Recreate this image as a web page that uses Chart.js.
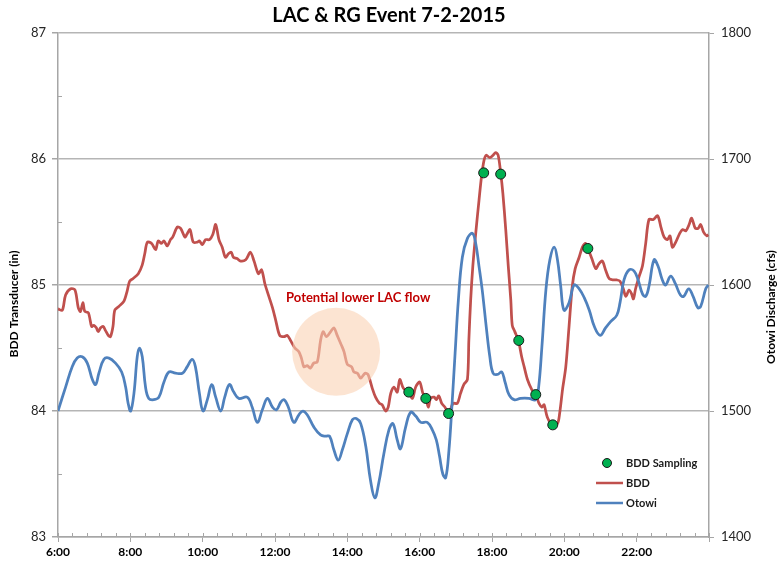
<!DOCTYPE html>
<html>
<head>
<meta charset="utf-8">
<script src="https://cdn.jsdelivr.net/npm/chart.js@4.4.0/dist/chart.umd.min.js"></script>
<style>
  body { margin: 0; background: #fff; }
</style>
</head>
<body>
<canvas id="eventChart" width="778" height="565"></canvas>
<script>
// BDD transducer (in), hours of day
const bddTimes = [6.00,6.12,6.21,6.35,6.47,6.56,6.62,6.69,6.74,6.84,6.93,6.99,7.06,7.11,7.18,7.25,7.31,7.39,7.45,7.52,7.57,7.68,7.82,7.91,7.98,8.07,8.22,8.33,8.40,8.47,8.59,8.70,8.77,8.86,8.93,9.02,9.11,9.17,9.30,9.39,9.51,9.56,9.65,9.74,9.85,9.91,9.99,10.08,10.19,10.28,10.36,10.45,10.54,10.63,10.72,10.79,10.85,10.95,11.05,11.19,11.32,11.42,11.54,11.63,11.72,11.83,11.93,12.02,12.13,12.25,12.34,12.43,12.55,12.66,12.73,12.80,12.89,12.98,13.07,13.17,13.26,13.33,13.42,13.54,13.63,13.72,13.84,13.91,14.00,14.12,14.18,14.28,14.37,14.49,14.57,14.69,14.78,14.89,14.96,15.06,15.13,15.20,15.29,15.38,15.45,15.55,15.70,15.80,15.89,16.00,16.09,16.17,16.24,16.30,16.40,16.46,16.53,16.61,16.70,16.81,16.92,17.04,17.13,17.22,17.32,17.36,17.41,17.47,17.55,17.64,17.71,17.78,17.84,17.94,18.03,18.10,18.17,18.24,18.30,18.38,18.45,18.52,18.56,18.63,18.73,18.82,18.89,18.98,19.10,19.21,19.30,19.38,19.44,19.53,19.67,19.81,19.87,19.95,20.04,20.13,20.22,20.30,20.41,20.50,20.59,20.65,20.76,20.87,20.96,21.05,21.14,21.24,21.36,21.45,21.54,21.63,21.70,21.79,21.86,21.91,21.97,22.07,22.16,22.25,22.34,22.46,22.58,22.67,22.76,22.85,22.92,22.99,23.08,23.19,23.27,23.36,23.45,23.52,23.62,23.70,23.77,23.85,23.94,23.98];
const bddValues = [84.81,84.80,84.92,84.97,84.96,84.82,84.79,84.86,84.79,84.78,84.67,84.68,84.66,84.63,84.66,84.67,84.64,84.60,84.59,84.67,84.80,84.83,84.87,84.95,85.03,85.05,85.09,85.16,85.25,85.34,85.33,85.28,85.35,85.33,85.35,85.31,85.36,85.38,85.46,85.45,85.38,85.40,85.44,85.34,85.34,85.35,85.32,85.36,85.36,85.40,85.48,85.36,85.30,85.22,85.25,85.26,85.22,85.21,85.19,85.20,85.26,85.19,85.09,85.12,85.01,84.91,84.82,84.72,84.60,84.59,84.60,84.56,84.50,84.47,84.42,84.35,84.36,84.34,84.38,84.39,84.56,84.63,84.59,84.63,84.66,84.60,84.52,84.47,84.37,84.35,84.31,84.30,84.26,84.30,84.29,84.18,84.11,84.06,84.05,84.00,84.03,84.14,84.19,84.15,84.25,84.18,84.15,84.10,84.19,84.23,84.14,84.10,84.03,84.10,84.11,84.09,84.12,84.06,84.03,83.98,84.06,84.06,84.14,84.21,84.25,84.56,84.88,85.15,85.41,85.67,85.86,85.99,86.03,86.01,86.03,86.05,86.03,85.89,85.73,85.44,85.15,84.88,84.68,84.63,84.56,84.43,84.35,84.25,84.17,84.13,84.06,84.03,84.05,83.95,83.89,83.90,83.98,84.17,84.35,84.67,84.99,85.13,85.22,85.30,85.33,85.29,85.21,85.13,85.17,85.19,85.12,85.05,85.04,85.04,85.03,84.97,84.91,84.96,84.93,84.89,84.97,85.07,85.15,85.33,85.52,85.52,85.55,85.46,85.38,85.36,85.39,85.30,85.34,85.41,85.44,85.43,85.48,85.53,85.45,85.45,85.48,85.42,85.39,85.40];

// Otowi discharge (cfs)
const otowiTimes = [6.00,6.21,6.39,6.53,6.67,6.81,6.95,7.04,7.13,7.27,7.41,7.59,7.76,7.87,7.94,8.01,8.10,8.19,8.25,8.33,8.42,8.51,8.65,8.79,8.93,9.07,9.25,9.44,9.57,9.71,9.80,9.91,10.01,10.13,10.25,10.36,10.50,10.61,10.74,10.86,11.00,11.23,11.37,11.51,11.65,11.79,11.93,12.04,12.16,12.25,12.37,12.52,12.66,12.77,12.89,13.08,13.26,13.40,13.51,13.63,13.75,13.86,14.00,14.14,14.25,14.37,14.51,14.64,14.76,14.87,15.01,15.15,15.26,15.38,15.47,15.61,15.75,15.89,16.03,16.21,16.35,16.46,16.55,16.64,16.72,16.81,16.89,16.98,17.07,17.18,17.32,17.46,17.55,17.64,17.73,17.84,17.94,18.03,18.15,18.27,18.36,18.47,18.61,18.79,19.02,19.21,19.29,19.38,19.49,19.60,19.72,19.81,19.90,19.99,20.13,20.27,20.41,20.55,20.69,20.83,20.99,21.14,21.28,21.45,21.54,21.65,21.79,21.93,22.04,22.16,22.25,22.34,22.48,22.59,22.71,22.80,22.94,23.07,23.21,23.30,23.44,23.56,23.69,23.77,23.91,23.98];
const otowiValues = [1500,1519,1535,1542,1543,1538,1525,1521,1530,1541,1542,1538,1531,1519,1506,1500,1514,1543,1550,1543,1519,1510,1509,1511,1523,1531,1530,1530,1535,1541,1535,1514,1500,1509,1521,1511,1500,1511,1521,1515,1510,1511,1503,1491,1501,1510,1503,1501,1507,1509,1503,1491,1497,1500,1497,1487,1481,1480,1480,1469,1461,1469,1482,1493,1494,1490,1472,1445,1431,1443,1466,1485,1490,1477,1470,1487,1499,1496,1491,1491,1485,1477,1464,1450,1447,1469,1503,1546,1588,1622,1637,1641,1633,1615,1596,1567,1543,1530,1529,1531,1523,1513,1509,1510,1510,1509,1519,1551,1596,1620,1630,1620,1599,1580,1586,1600,1597,1590,1580,1567,1560,1566,1571,1576,1586,1604,1612,1611,1604,1593,1591,1599,1620,1615,1604,1600,1607,1601,1592,1591,1597,1591,1582,1583,1597,1600];

// BDD sampling times and transducer readings
const sampleTimes = [15.70,16.17,16.80,17.77,18.24,18.74,19.21,19.68,20.65];
const sampleValues = [84.15,84.10,83.98,85.89,85.88,84.56,84.13,83.89,85.29];

const leftTicks = [83,84,85,86,87];
const hourLabels = [6,8,10,12,14,16,18,20,22];

const fontFamily = 'Lato, "Open Sans", sans-serif';
const axisGray = '#A6A6A6';
const gridGray = '#B5B5B5';

function pairs(xs, ys) {
  return xs.map((x, i) => ({x: x, y: ys[i]}));
}

function isWhole(v) {
  return Math.abs(v - Math.round(v)) < 1e-6;
}

const decor = {
  id: 'decor',
  afterDatasetsDraw(chart) {
    const ctx = chart.ctx;
    const xs = chart.scales.x, ys = chart.scales.y;
    // highlight circle
    ctx.save();
    ctx.fillStyle = 'rgba(250,210,180,0.6)';
    ctx.beginPath();
    ctx.arc(xs.getPixelForValue(13.69), ys.getPixelForValue(84.47), 44, 0, Math.PI * 2);
    ctx.fill();
    ctx.fillStyle = '#C00000';
    ctx.font = 'bold 13px ' + fontFamily;
    ctx.textAlign = 'center';
    ctx.textBaseline = 'middle';
    ctx.fillText('Potential lower LAC flow', xs.getPixelForValue(14.3), ys.getPixelForValue(84.9));
    ctx.restore();
  },
  afterDraw(chart) {
    const ctx = chart.ctx;
    const area = chart.chartArea;
    const xs = chart.scales.x, ys = chart.scales.y;
    ctx.save();
    // minor ticks (inside)
    ctx.strokeStyle = axisGray;
    ctx.lineWidth = 1;
    ys.ticks.forEach(t => {
      if (isWhole(t.value)) return;
      const py = Math.round(ys.getPixelForValue(t.value)) + 0.5;
      ctx.beginPath();
      ctx.moveTo(area.left, py);
      ctx.lineTo(area.left + 4, py);
      ctx.stroke();
    });
    xs.ticks.forEach(t => {
      const py = area.bottom;
      const px = Math.round(xs.getPixelForValue(t.value)) + 0.5;
      ctx.beginPath();
      ctx.moveTo(px, py);
      ctx.lineTo(px, py - 4);
      ctx.stroke();
    });

    // axis titles
    ctx.fillStyle = '#000';
    ctx.font = 'bold 12px ' + fontFamily;
    ctx.textAlign = 'center';
    ctx.textBaseline = 'middle';
    const midY = (area.top + area.bottom) / 2 + 19;
    ctx.save();
    ctx.translate(14, midY);
    ctx.rotate(-Math.PI / 2);
    ctx.fillText('BDD Transducer (in)', 0, 0);
    ctx.restore();
    ctx.save();
    ctx.translate(771, midY + 3);
    ctx.rotate(-Math.PI / 2);
    ctx.fillText('Otowi Discharge (cfs)', 0, 0);
    ctx.restore();

    // legend
    const ds = chart.data.datasets;
    ctx.font = 'bold 11px ' + fontFamily;
    ctx.textAlign = 'left';
    const lx = 596, tx = 626;
    ctx.beginPath();
    ctx.arc(607, 463, 4.5, 0, Math.PI * 2);
    ctx.fillStyle = ds[0].pointBackgroundColor;
    ctx.fill();
    ctx.strokeStyle = ds[0].pointBorderColor;
    ctx.lineWidth = 1;
    ctx.stroke();
    ctx.fillStyle = '#1a1a1a';
    ctx.fillText(ds[0].label, tx, 463);
    [[ds[1], 483], [ds[2], 503]].forEach(([d, y]) => {
      ctx.strokeStyle = d.borderColor;
      ctx.lineWidth = 2.5;
      ctx.beginPath();
      ctx.moveTo(lx, y);
      ctx.lineTo(lx + 27, y);
      ctx.stroke();
      ctx.fillText(d.label, tx, y);
    });
    ctx.restore();
  }
};

new Chart(document.getElementById('eventChart'), {
  type: 'line',
  data: {
    datasets: [
      {
        label: 'BDD Sampling',
        data: pairs(sampleTimes, sampleValues),
        yAxisID: 'y',
        showLine: false,
        pointRadius: 5,
        pointBackgroundColor: '#00B050',
        pointBorderColor: '#1a1a1a',
        pointBorderWidth: 1,
        order: 0
      },
      {
        label: 'BDD',
        data: pairs(bddTimes, bddValues),
        yAxisID: 'y',
        borderColor: '#C0504D',
        borderWidth: 2.75,
        pointRadius: 0,
        tension: 0.3,
        order: 2
      },
      {
        label: 'Otowi',
        data: pairs(otowiTimes, otowiValues),
        yAxisID: 'y2',
        borderColor: '#4F81BD',
        borderWidth: 2.75,
        pointRadius: 0,
        tension: 0.4,
        order: 1
      }
    ]
  },
  options: {
    responsive: false,
    animation: false,
    devicePixelRatio: 1,
    layout: { padding: 0 },
    plugins: {
      legend: { display: false },
      tooltip: { enabled: false },
      title: {
        display: true,
        text: 'LAC & RG Event 7-2-2015',
        color: '#000',
        font: { family: fontFamily, size: 20, weight: 'bold' },
        padding: { top: 4, bottom: 5 }
      }
    },
    scales: {
      x: {
        type: 'linear',
        min: 6,
        max: 24,
        afterFit: s => { s.height = 28; },
        ticks: {
          stepSize: 0.4,
          autoSkip: false,
          maxRotation: 0,
          padding: 3,
          color: '#000',
          font: { family: fontFamily, size: 12, weight: 'bold' },
          callback: v => (isWhole(v) && hourLabels.includes(Math.round(v))) ? Math.round(v) + ':00' : ''
        },
        grid: {
          drawOnChartArea: false,
          tickLength: 5,
          tickColor: c => (isWhole(c.tick.value) && Math.round(c.tick.value) % 2 === 0) ? axisGray : 'transparent'
        },
        border: { color: axisGray, width: 1.5 }
      },
      y: {
        position: 'left',
        min: 83,
        max: 87,
        afterFit: s => { s.width = 58; },
        ticks: {
          stepSize: 0.5,
          padding: 6,
          color: '#262626',
          font: { family: fontFamily, size: 13 },
          callback: v => leftTicks.includes(v) ? v : ''
        },
        grid: {
          color: c => isWhole(c.tick.value) ? gridGray : 'transparent',
          lineWidth: 1.5,
          tickLength: 6,
          tickColor: c => isWhole(c.tick.value) ? axisGray : 'transparent'
        },
        border: { color: axisGray, width: 1.5 }
      },
      y2: {
        position: 'right',
        min: 1400,
        max: 1800,
        afterFit: s => { s.width = 69; },
        ticks: {
          stepSize: 100,
          padding: 7,
          color: '#262626',
          font: { family: fontFamily, size: 13 },
          callback: v => String(v)
        },
        grid: {
          drawOnChartArea: false,
          tickLength: 5,
          tickColor: axisGray
        },
        border: { color: axisGray, width: 1.5 }
      }
    }
  },
  plugins: [decor]
});
</script>
</body>
</html>
